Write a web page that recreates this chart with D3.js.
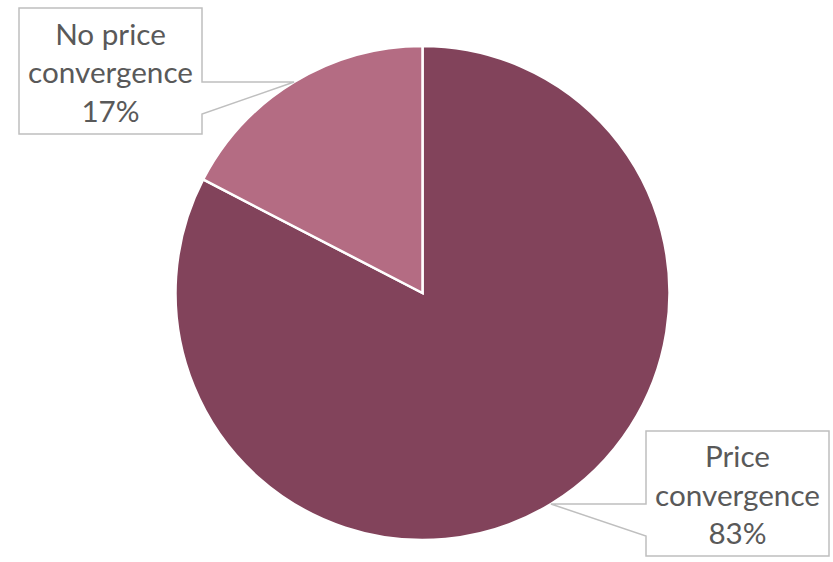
<!DOCTYPE html>
<html>
<head>
<meta charset="utf-8">
<script src="https://cdn.jsdelivr.net/npm/d3@7"></script>
<style>
html,body{margin:0;padding:0;background:#fff;}
svg{display:block;}
</style>
</head>
<body>
<svg id="chart" width="833" height="562"></svg>
<script>
const categories = ["Price convergence", "No price convergence"];
const values = [82.6, 17.4];
const colors = ["#82435B", "#B46C83"];
const labelLines = [["Price", "convergence"], ["No price", "convergence"]];

const W = 833, H = 562;
const cx = 422.5, cy = 293, R = 247;
const svg = d3.select("#chart");

const pie = d3.pie().sort(null).value(d => d.value);
const data = categories.map((c, i) => ({cat: c, value: values[i], color: colors[i], lines: labelLines[i]}));
const arcs = pie(data);
const total = d3.sum(values);
const fmt = d3.format(".0%");

const arc = d3.arc().innerRadius(0).outerRadius(R);
const edgeArc = d3.arc().innerRadius(R).outerRadius(R);

const g = svg.append("g").attr("transform", `translate(${cx},${cy})`);
g.selectAll("path.slice").data(arcs).enter().append("path")
  .attr("class", "slice")
  .attr("d", arc)
  .attr("fill", d => d.data.color)
  .attr("stroke", "#fff")
  .attr("stroke-width", 2.5)
  .attr("stroke-linejoin", "miter");

const boxes = [
  {x: 646, y: 431, w: 183, h: 125, side: "left"},
  {x: 19, y: 8, w: 183, h: 126, side: "right"}
];

const fontFamily = "Lato, 'Open Sans', sans-serif";
const probe = svg.append("text").attr("font-family", fontFamily).attr("font-size", 26).text("convergence");
const wProbe = probe.node().getComputedTextLength();
probe.remove();
const fontSize = 26 * 165 / wProbe;

arcs.forEach((a, i) => {
  const b = boxes[i];
  const c = edgeArc.centroid(a);
  const px = cx + c[0], py = cy + c[1];
  const wedge = 32;
  let p;
  if (b.side === "right") {
    const xr = b.x + b.w;
    p = `M${b.x},${b.y}H${xr}V${py}L${px},${py}L${xr},${py + wedge}V${b.y + b.h}H${b.x}Z`;
  } else {
    const xl = b.x;
    p = `M${xl},${b.y}H${b.x + b.w}V${b.y + b.h}H${xl}V${py + wedge}L${px},${py}L${xl},${py}Z`;
  }
  svg.append("path").attr("d", p)
    .attr("fill", "#fff")
    .attr("stroke", "#BFBFBF")
    .attr("stroke-width", 1.5);

  const lines = a.data.lines.concat([fmt(a.data.value / total)]);
  const midY = b.y + b.h / 2;
  const t = svg.append("text")
    .attr("font-family", fontFamily)
    .attr("font-size", fontSize)
    .attr("fill", "#595959")
    .attr("text-anchor", "middle");
  lines.forEach((ln, k) => {
    t.append("tspan")
      .attr("x", b.x + b.w / 2)
      .attr("y", midY + (k - 1) * 38.5 + 12)
      .text(ln);
  });
});
</script>
</body>
</html>
